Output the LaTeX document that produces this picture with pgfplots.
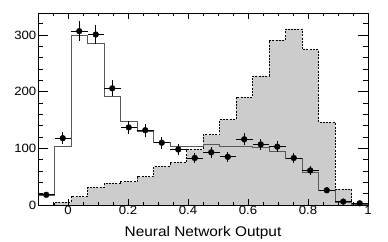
\documentclass[border=0pt]{standalone}
\usepackage{fontspec}
\setmainfont{Liberation Sans}[FakeStretch=1.1]
\usepackage{pgfplots}
\pgfplotsset{compat=1.18}
\begin{document}
\begin{tikzpicture}
\useasboundingbox (0,0) rectangle (388bp,242bp);
\begin{axis}[
  at={(38bp,37bp)}, anchor=south west,
  scale only axis, width=330bp, height=192bp,
  xmin=-0.1, xmax=1, ymin=0, ymax=339,
  axis on top,
  axis line style={line width=0.9bp},
  tick style={black, line width=0.8bp},
  tick align=inside,
  xtick={0,0.2,0.4,0.6,0.8,1},
  xticklabels={0,0.2,0.4,0.6,0.8,1},
  minor xtick={-0.05,0.05,0.1,0.15,0.25,0.3,0.35,0.45,0.5,0.55,0.65,0.7,0.75,0.85,0.9,0.95},
  ytick={0,100,200,300},
  minor ytick={20,40,60,80,120,140,160,180,220,240,260,280,320},
  xtick style={/pgfplots/major tick length=6bp, /pgfplots/minor tick length=3bp},
  ytick style={/pgfplots/major tick length=10bp, /pgfplots/minor tick length=5bp},
  /pgf/number format/assume math mode=true,
  ticklabel style={font=\fontsize{12bp}{14bp}\selectfont},
  xticklabel style={inner sep=1.2bp},
  yticklabel style={inner sep=1.5bp},
  xlabel={Neural Network Output},
  xlabel style={font=\fontsize{14bp}{16bp}\selectfont, at={(axis description cs:0.5,0)}, anchor=base, yshift=-32bp},
]
% signal-like filled histogram (dashed outline)
\addplot[const plot, fill=black!20, draw=black, line width=0.7bp, dash pattern=on 2bp off 1.3bp] coordinates {
(-0.1,0) (-0.045,5) (0.01,15) (0.065,31) (0.12,38) (0.175,41) (0.23,50) (0.285,68) (0.34,75) (0.395,98)
(0.45,124) (0.505,151) (0.56,190) (0.615,228) (0.67,291) (0.725,311) (0.78,274) (0.835,146) (0.89,28) (0.945,0) (1.0,0)
} \closedcycle;
% background histogram (solid line)
\addplot[const plot, draw=black!65, line width=1bp] coordinates {
(-0.1,17) (-0.045,103) (0.01,300) (0.065,285) (0.12,192) (0.175,147) (0.23,130) (0.285,110) (0.34,104) (0.395,104)
(0.45,106) (0.505,103) (0.56,104) (0.615,102) (0.67,95) (0.725,82) (0.78,58) (0.835,25) (0.89,5) (0.945,1.5) (1.0,1.5)
};
% data
\addplot[only marks, mark=*, mark size=2.9bp, black,
  error bars/.cd, x dir=both, x explicit, y dir=both, y explicit,
  error mark=none, error bar style={line width=0.9bp, black}]
coordinates {
(-0.0725,18) +- (0.0275,4.2)
(-0.0175,118) +- (0.0275,10.9)
(0.0375,307) +- (0.0275,17.5)
(0.0925,301) +- (0.0275,17.3)
(0.1475,206) +- (0.0275,14.4)
(0.2025,137) +- (0.0275,11.7)
(0.2575,132) +- (0.0275,11.5)
(0.3125,110) +- (0.0275,10.5)
(0.3675,98) +- (0.0275,9.9)
(0.4225,83) +- (0.0275,9.1)
(0.4775,93) +- (0.0275,9.6)
(0.5325,85) +- (0.0275,9.2)
(0.5875,116) +- (0.0275,10.8)
(0.6425,107) +- (0.0275,10.3)
(0.6975,103) +- (0.0275,10.1)
(0.7525,83) +- (0.0275,9.1)
(0.8075,61) +- (0.0275,7.8)
(0.8625,26) +- (0.0275,5.1)
(0.9175,6) +- (0.0275,2.4)
(0.9725,3) +- (0.0275,1.7)
};
\end{axis}
\end{tikzpicture}
\end{document}
